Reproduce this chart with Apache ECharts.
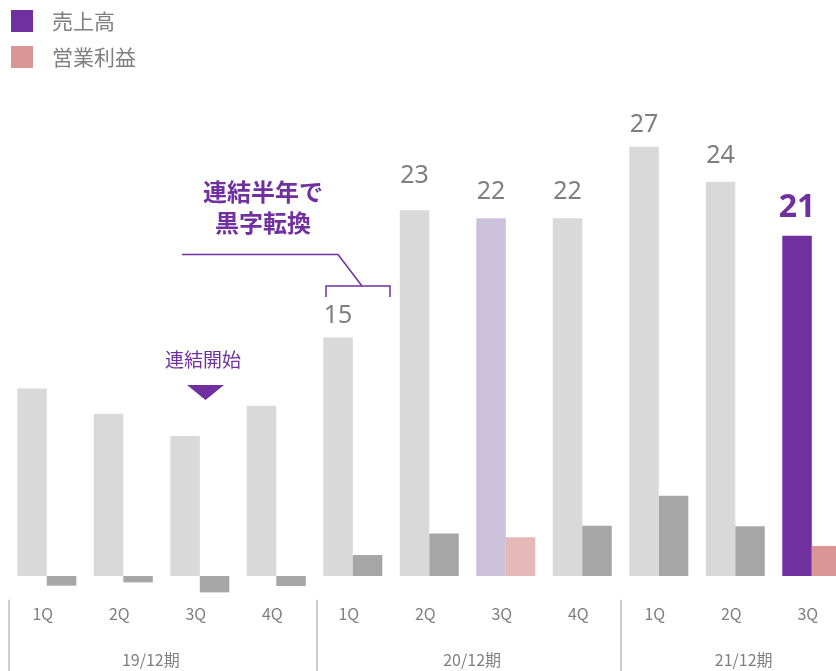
<!DOCTYPE html>
<html>
<head>
<meta charset="utf-8">
<script src="https://cdn.jsdelivr.net/npm/echarts@6/dist/echarts.min.js"></script>
<style>
  html, body { margin: 0; padding: 0; background: #fff; }
  #chart { width: 836px; height: 671px; }
</style>
</head>
<body>
<div id="chart"></div>
<script>
// 四半期
const quarters = ['1Q', '2Q', '3Q', '4Q', '1Q', '2Q', '3Q', '4Q', '1Q', '2Q', '3Q']
// 期
const fiscalYears = ['19/12期', '20/12期', '21/12期']
// 売上高
const sales = [11.8, 10.2, 8.8, 10.7, 15.0, 23.0, 22.5, 22.5, 27.0, 24.8, 21.4]
// 営業利益
const profit = [-0.61, -0.40, -1.03, -0.63, 1.32, 2.68, 2.43, 3.16, 5.05, 3.13, 1.89]

// 表示位置など（データではない）
const labelFrom = 4
const labelGap = [0, 0, 0, 0, 9, 22, 14, 14, 9, 13, 12]
const yearLabelPos = [1.36, 5.56, 9.11]
const yearTickPos = [-0.5, 3.53, 7.5]

const PURPLE = '#7030a0'
const GRAY_TEXT = '#7f7f7f'

const salesColor = (i) => i === 10 ? PURPLE : (i === 6 ? '#ccc1da' : '#d9d9d9')
const profitColor = (i) => i === 10 ? '#d99694' : (i === 6 ? '#e6b9b8' : '#a6a6a6')

const chart = echarts.init(document.getElementById('chart'))

const option = {
  animation: false,
  legend: {
    orient: 'vertical',
    left: 11,
    top: 10,
    padding: 0,
    itemWidth: 22,
    itemHeight: 22,
    itemGap: 14,
    icon: 'rect',
    textStyle: {
      color: GRAY_TEXT,
      fontSize: 21,
      fontFamily: 'Noto Sans CJK JP',
      padding: [0, 0, 0, 14]
    },
    data: ['売上高', '営業利益']
  },
  grid: {
    left: 8.55,
    top: 99,
    width: 841.5,
    height: 500.85,
    containLabel: false,
    outerBoundsMode: 'none'
  },
  xAxis: [
    {
      type: 'category',
      data: quarters,
      position: 'bottom',
      axisLine: { show: false },
      axisTick: { show: false },
      axisLabel: {
        margin: 6,
        color: GRAY_TEXT,
        fontSize: 16,
        fontFamily: 'Noto Sans CJK JP',
        padding: [0, 8, 0, 0]
      }
    },
    {
      type: 'value',
      min: -0.5,
      max: 10.5,
      position: 'bottom',
      axisLine: { show: false },
      splitLine: { show: false },
      axisTick: {
        show: true,
        customValues: yearTickPos,
        length: 74,
        lineStyle: { color: '#bfbfbf', width: 1.5 }
      },
      axisLabel: {
        customValues: yearLabelPos,
        margin: 52,
        color: GRAY_TEXT,
        fontSize: 16,
        fontFamily: 'Noto Sans CJK JP',
        formatter: (v) => fiscalYears[yearLabelPos.indexOf(v)] || ''
      }
    }
  ],
  yAxis: {
    type: 'value',
    min: -1.5,
    max: 30,
    show: false,
    splitLine: { show: false }
  },
  series: [
    {
      name: '売上高',
      type: 'bar',
      xAxisIndex: 0,
      barWidth: 29.5,
      barGap: 0,
      itemStyle: { color: PURPLE },
      data: sales.map((v, i) => ({
        value: v,
        itemStyle: { color: salesColor(i) },
        label: {
          show: i >= labelFrom,
          position: 'top',
          distance: labelGap[i],
          color: i === 10 ? PURPLE : GRAY_TEXT,
          fontSize: i === 10 ? 32 : 25,
          fontWeight: i === 10 ? 'bold' : 'normal',
          fontFamily: 'Noto Sans',
          formatter: (p) => Math.floor(p.value)
        }
      }))
    },
    {
      name: '営業利益',
      type: 'bar',
      xAxisIndex: 0,
      barWidth: 29.5,
      barGap: 0,
      itemStyle: { color: '#da9694' },
      data: profit.map((v, i) => ({
        value: v,
        itemStyle: { color: profitColor(i) }
      }))
    }
  ],
  graphic: [
    {
      type: 'text',
      x: 263,
      y: 207,
      style: {
        text: '連結半年で\n黒字転換',
        fill: PURPLE,
        fontSize: 24,
        fontWeight: 'bold',
        lineHeight: 31,
        fontFamily: 'Noto Sans CJK JP',
        align: 'center',
        verticalAlign: 'middle'
      }
    },
    {
      type: 'polyline',
      shape: { points: [[182, 254.5], [338, 254.5], [362, 286]] },
      style: { stroke: PURPLE, lineWidth: 1.5, fill: null }
    },
    {
      type: 'polyline',
      shape: { points: [[326, 297], [326, 286], [390, 286], [390, 297]] },
      style: { stroke: PURPLE, lineWidth: 1.5, fill: null }
    },
    {
      type: 'text',
      x: 203,
      y: 360,
      style: {
        text: '連結開始',
        fill: PURPLE,
        fontSize: 19,
        fontFamily: 'Noto Sans CJK JP',
        align: 'center',
        verticalAlign: 'middle'
      }
    },
    {
      type: 'polygon',
      shape: { points: [[187, 385], [224, 385], [205.5, 400]] },
      style: { fill: PURPLE }
    }
  ]
}

chart.setOption(option)
</script>
</body>
</html>
